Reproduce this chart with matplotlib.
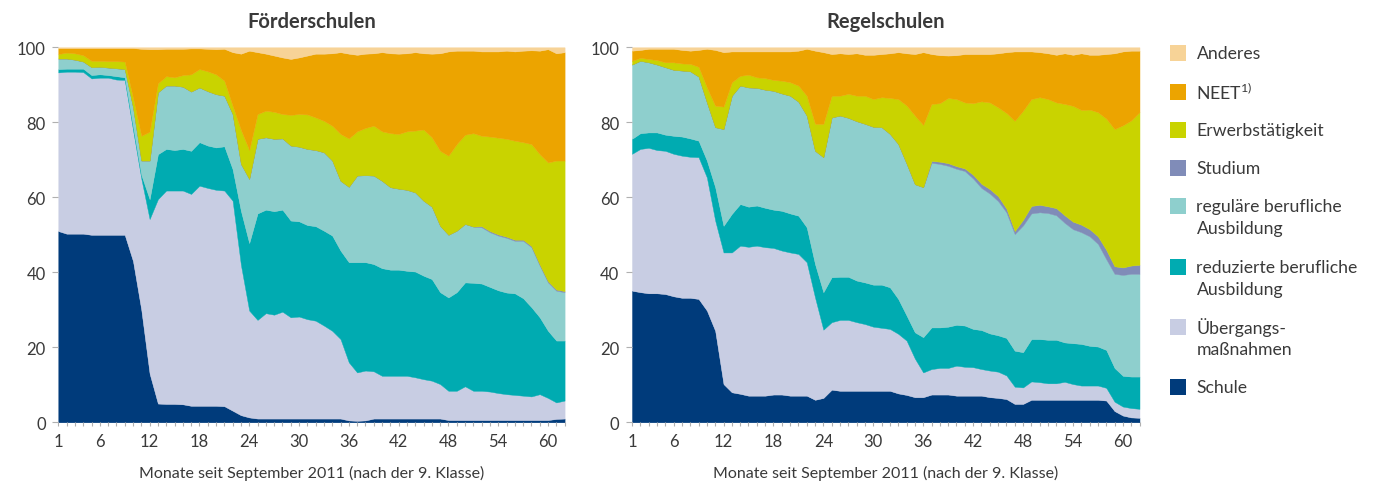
import numpy as np
import matplotlib
matplotlib.use('Agg')
import matplotlib.pyplot as plt
from matplotlib.patches import Rectangle

plt.rcParams['font.family'] = ['Lato', 'DejaVu Sans']

months = np.arange(1, 63)

# Förderschulen: obere Kante jeder Schicht, kumuliert in %
foe_schule = [51.0, 50.3, 50.3, 50.3, 50.0, 50.0, 50.0, 50.0, 50.0,
              43.0, 30.0, 13.0,
              5.0, 4.9, 4.9, 4.8, 4.4, 4.4, 4.4, 4.4, 4.3,
              3.1, 1.9, 1.3, 1.0,
              1.0, 1.0, 1.0, 1.0, 1.0, 1.0, 1.0, 1.0, 1.0, 1.0,
              0.5, 0.4, 0.5,
              1.0, 1.0, 1.0, 1.0, 1.0, 1.0, 1.0, 1.0, 1.0,
              0.6, 0.6, 0.6, 0.6, 0.6, 0.6, 0.6, 0.6, 0.6, 0.6, 0.6, 0.6, 0.6,
              0.9, 1.0]
foe_uebergang = [93.3, 93.5, 93.5, 93.4, 91.7, 91.9, 91.9, 91.4, 91.3,
                 78.0, 65.0, 54.2,
                 59.5, 61.8, 61.8, 61.8, 60.9, 63.1, 62.5, 62.0, 61.8,
                 59.1, 42.0, 29.8, 27.3,
                 29.1, 28.7, 29.5, 28.0, 28.2, 27.5, 27.1, 25.8, 24.4, 22.2,
                 16.0, 13.3, 13.8,
                 13.6, 12.4, 12.4, 12.4, 12.4, 12.0, 11.5, 11.1, 10.2,
                 8.4, 8.4, 9.6, 8.4, 8.4, 8.2, 7.8, 7.5, 7.3, 7.1, 6.9, 7.5, 6.5,
                 5.3, 5.8]
foe_reduziert = [94.2, 94.3, 94.3, 94.3, 92.6, 92.8, 92.6, 92.3, 92.0,
                 79.0, 66.0, 59.5,
                 71.5, 72.9, 72.6, 72.9, 72.4, 74.7, 73.8, 73.3, 73.6,
                 67.5, 56.4, 47.8, 55.7,
                 56.7, 56.3, 56.7, 53.8, 53.6, 52.6, 52.3, 51.1, 49.8, 45.8,
                 42.7, 42.7, 42.7,
                 42.2, 41.1, 40.7, 40.7, 40.4, 40.2, 39.1, 38.2, 34.7,
                 33.3, 34.7, 37.3, 37.2, 37.0, 36.1, 35.2, 34.6, 34.4, 33.1, 30.7, 28.0, 24.4,
                 21.8, 21.8]
foe_regulaer = [97.0, 97.0, 96.7, 96.2, 94.7, 94.8, 94.6, 94.4, 94.2,
                84.0, 69.8, 69.8,
                88.0, 89.8, 89.8, 89.5, 88.2, 89.3, 88.3, 87.5, 87.1,
                82.2, 68.9, 64.9, 75.6,
                76.0, 75.6, 75.7, 73.8, 73.5, 72.9, 72.6, 72.0, 69.8, 64.4,
                62.8, 65.8, 65.9,
                65.8, 64.4, 62.7, 62.3, 62.0, 61.3, 59.1, 57.5, 52.4,
                50.0, 51.1, 52.9, 52.2, 52.0, 50.7, 49.8, 49.2, 48.4, 48.4, 46.7, 41.8, 37.3,
                35.1, 34.7]
foe_studium = [97.0, 97.0, 96.7, 96.2, 94.7, 94.8, 94.6, 94.4, 94.2,
               84.0, 69.8, 69.8,
               88.0, 89.8, 89.8, 89.5, 88.2, 89.3, 88.3, 87.5, 87.1,
               82.2, 68.9, 64.9, 75.6,
               76.0, 75.6, 75.7, 73.8, 73.5, 72.9, 72.6, 72.0, 69.8, 64.4,
               62.8, 65.8, 65.9,
               65.8, 64.4, 62.7, 62.3, 62.0, 61.3, 59.1, 57.5, 52.4,
               50.0, 51.1, 52.9, 52.2, 52.3, 51.0, 50.1, 49.5, 48.7, 48.7, 47.0, 42.1, 37.6,
               35.4, 35.0]
foe_erwerb = [98.2, 98.6, 98.4, 97.9, 96.4, 96.4, 96.3, 96.3, 96.2,
              86.5, 76.4, 77.5,
              90.4, 92.3, 92.0, 92.6, 92.8, 94.2, 93.6, 92.8, 91.1,
              84.4, 78.0, 72.6, 82.2,
              83.1, 82.8, 82.2, 82.0, 82.2, 82.1, 81.3, 80.4, 79.1, 76.9,
              75.7, 77.6, 78.5,
              79.1, 77.6, 77.1, 76.9, 77.6, 77.8, 78.1, 76.0, 72.4,
              71.1, 74.2, 76.7, 77.1, 76.4, 76.2, 75.9, 75.6, 75.1, 74.7, 74.2, 71.5, 69.3,
              69.8, 69.8]
foe_neet = [99.8, 99.8, 99.8, 99.8, 99.8, 99.8, 99.8, 99.8, 99.8,
            99.8, 99.6, 99.5,
            99.5, 99.6, 99.6, 99.6, 99.7, 99.7, 99.6, 99.5, 99.6,
            98.7, 98.3, 99.1, 98.7,
            98.3, 97.8, 97.3, 96.9, 97.3, 97.8, 98.3, 98.3, 98.4, 98.7,
            98.3, 98.0, 98.3,
            98.4, 98.7, 98.4, 98.3, 98.4, 98.7, 98.4, 98.3, 98.4,
            98.9, 99.1, 99.1, 99.1, 98.9, 98.9, 98.9, 99.1, 98.9, 99.1, 99.2, 99.1, 99.5,
            98.4, 98.7]

# Regelschulen
reg_schule = [35.1, 34.7, 34.4, 34.4, 34.2, 33.6, 33.2, 33.2, 32.9,
              29.8, 24.4, 10.2,
              8.0, 7.6, 7.1, 7.1, 7.1, 7.4, 7.4, 7.1, 7.1,
              7.1, 6.0, 6.5, 8.7,
              8.4, 8.4, 8.4, 8.4, 8.4, 8.4, 8.4, 7.7, 7.3, 6.7,
              6.7, 7.4, 7.4, 7.4, 7.1, 7.1,
              7.1, 7.1, 6.7, 6.5, 6.2, 4.9, 4.9,
              6.0, 6.0, 6.0, 6.0, 6.0, 6.0, 6.0, 6.0, 6.0,
              5.8, 3.0, 1.8, 1.3, 1.2]
reg_uebergang = [71.6, 72.9, 73.2, 72.6, 72.4, 71.6, 71.1, 70.8, 70.7,
                 65.3, 53.8, 45.3,
                 45.3, 47.1, 46.8, 47.1, 46.7, 46.5, 45.8, 45.3, 44.9,
                 42.7, 33.3, 24.7, 26.7,
                 27.3, 27.3, 26.7, 26.2, 25.5, 25.2, 24.9, 23.6, 21.8, 17.0,
                 13.3, 14.2, 14.5, 14.5, 15.1, 14.8,
                 14.7, 14.2, 13.8, 13.5, 12.5, 9.5, 9.3,
                 10.9, 10.7, 10.4, 10.4, 10.8, 10.2, 9.8, 9.8, 9.8,
                 9.2, 5.5, 4.2, 3.8, 3.6]
reg_reduziert = [75.6, 77.1, 77.3, 77.3, 76.7, 76.4, 76.2, 75.7, 75.1,
                 69.8, 62.7, 52.4,
                 55.6, 58.2, 57.5, 57.8, 57.2, 56.7, 56.4, 55.7, 55.1,
                 52.0, 42.2, 34.7, 38.7,
                 38.8, 38.8, 37.8, 37.3, 36.7, 36.7, 36.0, 32.9, 28.5, 24.0,
                 22.7, 25.3, 25.3, 25.5, 26.0, 25.8,
                 24.9, 24.6, 23.7, 23.2, 22.5, 19.1, 18.7,
                 22.2, 22.2, 22.0, 22.0, 21.3, 21.1, 20.9, 20.4, 20.2,
                 19.3, 14.5, 12.4, 12.2, 12.2]
reg_regulaer = [95.4, 96.4, 96.0, 95.4, 94.7, 94.0, 93.8, 93.6, 92.2,
                85.3, 78.7, 78.2,
                87.1, 89.8, 89.3, 89.2, 88.7, 88.4, 87.7, 87.1, 85.5,
                81.8, 72.4, 70.7, 81.3,
                81.8, 81.2, 80.3, 79.6, 78.8, 78.7, 76.9, 74.2, 69.0, 63.5,
                62.7, 69.2, 68.9, 68.4, 67.6, 67.0,
                65.0, 62.5, 61.0, 59.0, 56.0, 50.2, 52.5,
                55.7, 56.0, 55.8, 55.2, 53.2, 51.5, 50.7, 49.6, 47.6,
                43.5, 39.6, 39.3, 39.6, 39.6]
reg_studium = [95.4, 96.4, 96.0, 95.4, 94.7, 94.0, 93.8, 93.6, 92.2,
               85.3, 78.7, 78.2,
               87.1, 89.8, 89.3, 89.2, 88.7, 88.4, 87.7, 87.1, 85.5,
               81.8, 72.4, 70.7, 81.3,
               81.8, 81.2, 80.3, 79.6, 78.8, 78.7, 76.9, 74.2, 69.0, 63.5,
               62.7, 69.7, 69.5, 69.1, 68.3, 67.7,
               66.0, 63.6, 62.2, 60.3, 57.0, 51.0, 54.0,
               57.7, 58.0, 57.6, 57.1, 55.2, 53.5, 52.7, 51.5, 49.6,
               46.0, 41.6, 41.3, 41.8, 42.0]
reg_erwerb = [96.4, 97.2, 96.9, 96.6, 96.0, 96.0, 95.7, 95.6, 94.8,
              89.3, 84.4, 84.2,
              90.7, 92.4, 92.7, 92.0, 91.8, 91.3, 91.1, 90.7, 89.8,
              87.1, 79.6, 79.6, 87.1,
              87.1, 87.6, 87.1, 87.1, 86.2, 86.7, 86.5, 86.2, 84.5, 81.8,
              79.3, 84.9, 85.1, 86.5, 86.2, 85.3,
              85.1, 85.6, 85.3, 84.0, 82.5, 80.4, 83.1,
              86.2, 86.7, 86.2, 85.3, 84.9, 84.4, 83.3, 83.4, 82.7,
              81.0, 78.2, 79.2, 80.5, 82.7]
reg_neet = [99.1, 99.3, 99.6, 99.6, 99.6, 99.6, 99.3, 99.1, 99.3,
            99.6, 99.3, 98.7,
            98.9, 98.9, 98.9, 98.9, 98.9, 98.9, 98.9, 98.9, 99.1,
            99.6, 99.1, 98.7, 98.2,
            98.4, 98.2, 98.4, 98.0, 98.0, 98.2, 98.4, 98.7, 98.4, 98.2,
            98.7, 98.2, 97.9, 97.8, 97.9, 98.2,
            98.2, 98.2, 98.2, 98.4, 98.7, 98.9, 98.9,
            98.9, 98.7, 98.4, 98.0, 98.4, 98.0, 98.4, 98.0, 98.0,
            98.2, 98.4, 98.9, 99.1, 99.1]
gesamt = [100.0] * 62

labels = ['Schule', 'Übergangs-\nmaßnahmen', 'reduzierte berufliche\nAusbildung',
          'reguläre berufliche\nAusbildung', 'Studium', 'Erwerbstätigkeit',
          'NEET$^{\\mathregular{1)}}$', 'Anderes']
colors = ['#003b7b', '#c8cde3', '#00abb1', '#8ecfcd', '#808cb8', '#c9d300',
          '#eca400', '#f7d397']

W, H = 1373, 485
txt = '#3a3a3a'
fig = plt.figure(figsize=(W / 100, H / 100), dpi=100)


def panel(left_px, width_px, title, kanten):
    ax = fig.add_axes([left_px / W, (H - 423.3) / H, width_px / W, 375 / H])
    unten = np.zeros(len(months))
    for oben, c in zip(kanten, colors):
        oben = np.array(oben)
        ax.fill_between(months, unten, oben, facecolor=c, edgecolor=c, lw=0.3)
        unten = oben
    ax.set_xlim(1, 62)
    ax.set_ylim(0, 100)
    ax.set_xticks([1, 6, 12, 18, 24, 30, 36, 42, 48, 54, 60])
    ax.set_xticks(months, minor=True)
    ax.set_yticks([0, 20, 40, 60, 80, 100])
    ax.tick_params(axis='x', which='both', length=3, width=0.8, color='#b0b0b0',
                   labelsize=12, labelcolor=txt, pad=5)
    ax.tick_params(axis='y', length=4, width=0.8, color='#b0b0b0',
                   labelsize=12, labelcolor=txt, pad=5)
    for s in ax.spines.values():
        s.set_visible(False)
    cx = (left_px + width_px / 2) / W
    fig.text(cx, 1 - 22 / H, title, ha='center', va='center', fontsize=14.5,
             fontweight='bold', color=txt)
    fig.text(cx, 1 - 473 / H, 'Monate seit September 2011 (nach der 9. Klasse)',
             ha='center', va='center', fontsize=11.5, color=txt)
    return ax


panel(58.3, 506.3, 'Förderschulen',
      [foe_schule, foe_uebergang, foe_reduziert, foe_regulaer, foe_studium,
       foe_erwerb, foe_neet, gesamt])
panel(632, 507.5, 'Regelschulen',
      [reg_schule, reg_uebergang, reg_reduziert, reg_regulaer, reg_studium,
       reg_erwerb, reg_neet, gesamt])

# Legende (von oben nach unten)
legend_y = [54, 93, 131, 169, 207, 268, 328, 388]
for lab, c, y in zip(labels[::-1], colors[::-1], legend_y):
    fig.add_artist(Rectangle((1170 / W, 1 - (y + 8) / H), 16 / W, 16 / H,
                             transform=fig.transFigure, facecolor=c, edgecolor='none'))
    for i, line in enumerate(lab.split('\n')):
        fig.text(1196.5 / W, 1 - (y + i * 22.5) / H, line, ha='left', va='center',
                 fontsize=12.7, color=txt)

fig.savefig('out.png', dpi=100)
